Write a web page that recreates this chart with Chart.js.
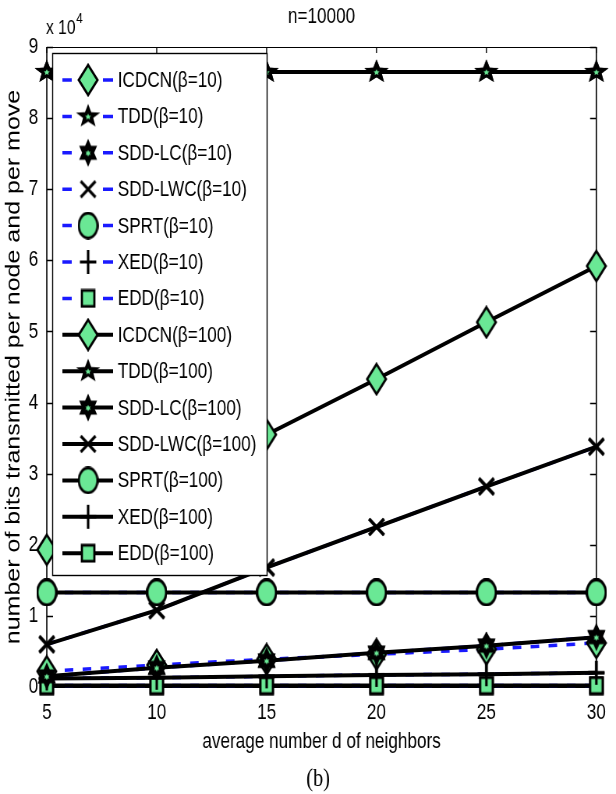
<!DOCTYPE html>
<html>
<head>
<meta charset="utf-8">
<title>n=10000</title>
<script src="https://cdn.jsdelivr.net/npm/chart.js@4.4.1/dist/chart.umd.min.js"></script>
<style>
  html, body { margin: 0; padding: 0; background: #fff; overflow: hidden; }
</style>
</head>
<body>
<!-- drawn 790 wide and shown 616 wide: the original figure is squeezed sideways -->
<canvas id="chart" width="790" height="794" style="width:616px;height:794px;display:block"></canvas>
<script>
// average number d of neighbors
const neighbors = [5, 10, 15, 20, 25, 30];

// bits transmitted per node and per move, in units of 10^4
const icdcn10  = [0.22, 0.31, 0.39, 0.46, 0.53, 0.62];
const tdd10    = [8.65, 8.65, 8.65, 8.65, 8.65, 8.65];
const sddLc10  = [0.15, 0.27, 0.37, 0.48, 0.58, 0.70];
const sddLwc10 = [0.60, 1.08, 1.68, 2.25, 2.82, 3.38];
const sprt10   = [1.33, 1.33, 1.33, 1.33, 1.33, 1.33];
const xed10    = [0.12, 0.13, 0.15, 0.17, 0.18, 0.20];
const edd10    = [0.02, 0.02, 0.02, 0.02, 0.02, 0.02];

const icdcn100  = [1.93, 2.74, 3.55, 4.33, 5.13, 5.92];
const tdd100    = [8.65, 8.65, 8.65, 8.65, 8.65, 8.65];
const sddLc100  = [0.15, 0.27, 0.37, 0.48, 0.58, 0.70];
const sddLwc100 = [0.60, 1.08, 1.68, 2.25, 2.82, 3.38];
const sprt100   = [1.33, 1.33, 1.33, 1.33, 1.33, 1.33];
const xed100    = [0.12, 0.13, 0.15, 0.17, 0.18, 0.20];
const edd100    = [0.02, 0.02, 0.02, 0.02, 0.02, 0.02];

const seriesNames = ['ICDCN', 'TDD', 'SDD-LC', 'SDD-LWC', 'SPRT', 'XED', 'EDD'];
const beta10Values = [icdcn10, tdd10, sddLc10, sddLwc10, sprt10, xed10, edd10];
const beta100Values = [icdcn100, tdd100, sddLc100, sddLwc100, sprt100, xed100, edd100];

const FONT = "'Liberation Sans', Arial, sans-serif";
const GREEN = '#6ae895';
const BLUE = '#1a1aff';
const markerKinds = ['diamond', 'pentagram', 'hexagram', 'cross', 'circle', 'plus', 'square'];

function starPath(ctx, cx, cy, n, rOut, rIn, sx) {
    ctx.beginPath();
    for (let k = 0; k < 2 * n; k++) {
        const r = k % 2 ? rIn : rOut;
        const a = -Math.PI / 2 + k * Math.PI / n;
        const px = cx + Math.cos(a) * r * sx;
        const py = cy + Math.sin(a) * r;
        if (k) ctx.lineTo(px, py); else ctx.moveTo(px, py);
    }
    ctx.closePath();
}

// matlab-like markers (canvas px, before the sideways squeeze)
function makeMarker(kind) {
    const sizes = {
        diamond: [28, 34], pentagram: [34, 28], hexagram: [26, 31], cross: [23, 20],
        circle: [27, 28], plus: [23, 26], square: [20, 20]
    };
    const [w, h] = sizes[kind];
    const c = document.createElement('canvas');
    c.width = w; c.height = h;
    const g = c.getContext('2d');
    const cx = w / 2, cy = h / 2;
    g.strokeStyle = '#000';
    g.fillStyle = GREEN;
    g.lineWidth = 2.8;
    g.lineJoin = 'miter';
    if (kind === 'diamond') {
        g.beginPath();
        g.moveTo(cx, 2); g.lineTo(w - 2, cy); g.lineTo(cx, h - 2); g.lineTo(2, cy);
        g.closePath(); g.fill(); g.stroke();
    } else if (kind === 'pentagram' || kind === 'hexagram') {
        const n = kind === 'pentagram' ? 5 : 6;
        const rOut = h / 2 - 1.5;
        const rIn = kind === 'pentagram' ? rOut * 0.42 : rOut * 0.58;
        const sx = kind === 'pentagram' ? (w - 3) / (2 * rOut * 0.951) : (w - 3) / (2 * rOut * 0.866);
        g.fillStyle = '#000';
        starPath(g, cx, cy, n, rOut, rIn, sx);
        g.fill();
        g.fillStyle = GREEN;
        starPath(g, cx, cy + 0.5, n, 3.2, 1.6, 1.25);
        g.fill();
    } else if (kind === 'cross') {
        g.lineWidth = 3.2;
        g.beginPath();
        g.moveTo(2, 2); g.lineTo(w - 2, h - 2);
        g.moveTo(w - 2, 2); g.lineTo(2, h - 2);
        g.stroke();
    } else if (kind === 'circle') {
        g.beginPath();
        g.ellipse(cx, cy, w / 2 - 1.5, h / 2 - 1.5, 0, 0, Math.PI * 2);
        g.fill(); g.stroke();
    } else if (kind === 'plus') {
        g.lineWidth = 3.2;
        g.beginPath();
        g.moveTo(cx, 1); g.lineTo(cx, h - 1);
        g.moveTo(1, cy); g.lineTo(w - 1, cy);
        g.stroke();
    } else if (kind === 'square') {
        g.fillRect(2, 2, w - 4, h - 4);
        g.strokeRect(2, 2, w - 4, h - 4);
    }
    return c;
}

const markers = markerKinds.map(makeMarker);

function buildDatasets() {
    const sets = [];
    beta10Values.forEach((vals, i) => sets.push({
        label: seriesNames[i] + '(β=10)',
        data: vals,
        borderColor: BLUE,
        borderWidth: 3.5,
        borderDash: [11, 12],
        pointStyle: markers[i],
        order: 1
    }));
    beta100Values.forEach((vals, i) => sets.push({
        label: seriesNames[i] + '(β=100)',
        data: vals,
        borderColor: '#000',
        borderWidth: 4,
        borderDash: [],
        pointStyle: markers[i],
        order: 0
    }));
    return sets.map(s => Object.assign(s, {
        fill: false, tension: 0, pointRadius: 8, clip: false
    }));
}

// frame with inward ticks on all four sides
const axesBox = {
    id: 'axesBox',
    beforeDatasetsDraw(chart) {
        const {ctx, chartArea: a, scales: {x, y}} = chart;
        ctx.save();
        ctx.strokeStyle = '#000';
        ctx.lineWidth = 1.2;
        ctx.beginPath();
        ctx.moveTo(a.left, a.top + 0.5); ctx.lineTo(a.right, a.top + 0.5);
        ctx.moveTo(a.left, a.bottom + 0.5); ctx.lineTo(a.right, a.bottom + 0.5);
        ctx.stroke();
        ctx.lineWidth = 1.6;
        ctx.beginPath();
        ctx.moveTo(a.left, a.top); ctx.lineTo(a.left, a.bottom + 1);
        ctx.moveTo(a.right, a.top); ctx.lineTo(a.right, a.bottom + 1);
        ctx.stroke();
        ctx.lineWidth = 1.4;
        ctx.beginPath();
        x.ticks.forEach((t, i) => {
            const px = x.getPixelForTick(i);
            ctx.moveTo(px, a.bottom); ctx.lineTo(px, a.bottom - 6);
            ctx.moveTo(px, a.top); ctx.lineTo(px, a.top + 6);
        });
        y.ticks.forEach(t => {
            const py = Math.round(y.getPixelForValue(t.value)) + 0.5;
            ctx.moveTo(a.left, py); ctx.lineTo(a.left + 8, py);
            ctx.moveTo(a.right, py); ctx.lineTo(a.right - 8, py);
        });
        ctx.stroke();
        ctx.restore();
    }
};

// boxed legend inside the axes, drawn over the data
const boxLegend = {
    id: 'boxLegend',
    afterDraw(chart) {
        const {ctx} = chart;
        const L = 67, T = 53, R = 342, B = 575;
        ctx.save();
        ctx.fillStyle = '#fff';
        ctx.fillRect(L, T, R - L, B - T);
        ctx.strokeStyle = '#000';
        ctx.lineWidth = 1.4;
        ctx.strokeRect(L + 0.5, T + 0.5, R - L, B - T);
        chart.data.datasets.forEach((ds, i) => {
            const cy = 80 + i * 36.4;
            const m = ds.pointStyle;
            ctx.strokeStyle = ds.borderColor;
            ctx.lineWidth = ds.borderWidth;
            ctx.beginPath();
            if (ds.borderDash.length) {
                ctx.moveTo(80, cy); ctx.lineTo(92, cy);
                ctx.moveTo(132, cy); ctx.lineTo(145, cy);
            } else {
                ctx.moveTo(80, cy); ctx.lineTo(145, cy);
            }
            ctx.stroke();
            ctx.drawImage(m, 113 - m.width / 2, cy - m.height / 2);
            ctx.fillStyle = '#000';
            ctx.font = '22px ' + FONT;
            ctx.textBaseline = 'middle';
            ctx.textAlign = 'left';
            ctx.fillText(ds.label, 151, cy + 1);
        });
        ctx.restore();
    }
};

// exponent, panel title and caption
const extraText = {
    id: 'extraText',
    afterDraw(chart) {
        const {ctx, chartArea: a} = chart;
        ctx.save();
        ctx.fillStyle = '#000';
        ctx.textBaseline = 'middle';
        ctx.textAlign = 'left';
        ctx.font = '20px ' + FONT;
        ctx.fillText('x 10', 59, 28);
        const w = ctx.measureText('x 10').width;
        ctx.font = '15px ' + FONT;
        ctx.fillText('4', 59 + w + 1, 19);
        ctx.textAlign = 'center';
        ctx.font = '22px ' + FONT;
        ctx.fillText('n=10000', (a.left + a.right) / 2, 17);
        ctx.font = "26px 'Liberation Serif', 'DejaVu Serif', serif";
        ctx.fillText('(b)', 408, 779);
        ctx.restore();
    }
};

new Chart(document.getElementById('chart'), {
    type: 'line',
    data: {
        labels: neighbors,
        datasets: buildDatasets()
    },
    options: {
        responsive: false,
        animation: false,
        devicePixelRatio: 1,
        events: [],
        layout: { padding: { top: 47, right: 14, left: 0, bottom: 0 } },
        plugins: {
            legend: { display: false },
            tooltip: { enabled: false },
            title: { display: false }
        },
        scales: {
            x: {
                type: 'category',
                offset: false,
                grid: { display: false, drawTicks: false },
                border: { display: false },
                ticks: {
                    color: '#000', padding: 13, maxRotation: 0, autoSkip: false,
                    font: { family: FONT, size: 22 }
                },
                title: {
                    display: true, text: 'average number d of neighbors', color: '#000',
                    font: { family: FONT, size: 22 }, padding: { top: 0, bottom: 39 }
                },
                afterFit: s => { s.height = 107; }
            },
            y: {
                min: 0,
                max: 9,
                grid: { display: false, drawTicks: false },
                border: { display: false },
                ticks: {
                    stepSize: 1, color: '#000', padding: 11,
                    font: { family: FONT, size: 22 }
                },
                title: {
                    display: true, text: 'number of bits transmitted per node and per move', color: '#000',
                    font: { family: FONT, size: 25 },
                    padding: { top: 3, bottom: 0 }
                },
                afterFit: s => { s.width = 60; }
            }
        }
    },
    plugins: [axesBox, boxLegend, extraText]
});
</script>
</body>
</html>
